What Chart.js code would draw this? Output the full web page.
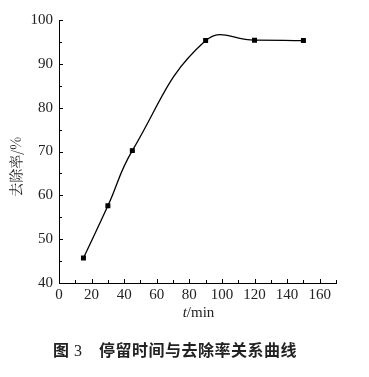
<!DOCTYPE html>
<html>
<head>
<meta charset="utf-8">
<script src="https://cdn.jsdelivr.net/npm/chart.js@4"></script>
<style>
  html, body { margin: 0; padding: 0; background: #fff; }
  #wrap { position: relative; width: 369px; height: 377px; }
  canvas { position: absolute; left: 0; top: 0; }
  #caption {
    position: absolute; left: 53px; top: 339px;
    font-family: "Noto Sans CJK SC", sans-serif; font-weight: bold;
    font-size: 16px; line-height: 20px; color: #222; white-space: nowrap;
  }
  #caption .num { font-family: "Liberation Serif", serif; font-weight: normal; margin-left: 5px; }
  #caption .txt { letter-spacing: 0.5px; margin-left: 17px; }
</style>
</head>
<body>
<div id="wrap">
  <canvas id="chart" width="369" height="377"></canvas>
  <div id="caption">图<span class="num">3</span><span class="txt">停留时间与去除率关系曲线</span></div>
</div>
<script>
// 停留时间 t/min
const times = [15, 30, 45, 90, 120, 150]
// 去除率 %
const removal = [45.7, 57.6, 70.2, 95.3, 95.4, 95.3]

const xTicks = [0, 20, 40, 60, 80, 100, 120, 140, 160]
const yTicks = [40, 50, 60, 70, 80, 90, 100]

const serif = 'Liberation Serif'

// ticks pointing into the plot, major + minor, plus axis titles
const innerTicks = {
  id: 'innerTicks',
  afterDraw(chart) {
    const ctx = chart.ctx
    const x = chart.scales.x
    const y = chart.scales.y
    const area = chart.chartArea
    ctx.save()
    ctx.strokeStyle = '#000'
    ctx.lineWidth = 1
    ctx.beginPath()
    for (let v = 0; v <= 170; v += 10) {
      const px = Math.round(x.getPixelForValue(v)) + 0.5
      const len = v % 20 === 0 ? 4 : 3
      ctx.moveTo(px, area.bottom)
      ctx.lineTo(px, area.bottom - len)
    }
    for (let v = 40; v <= 100; v += 5) {
      const py = Math.round(y.getPixelForValue(v)) + 0.5
      const len = v % 10 === 0 ? 4 : 3
      ctx.moveTo(area.left, py)
      ctx.lineTo(area.left + len, py)
    }
    ctx.stroke()

    // x axis title with italic t
    ctx.fillStyle = '#222'
    ctx.textBaseline = 'middle'
    ctx.font = 'italic 15px "' + serif + '"'
    const tW = ctx.measureText('t').width
    ctx.font = '15px "' + serif + '"'
    const rW = ctx.measureText('/min').width
    const cx = (area.left + area.right) / 2 + 1
    const start = cx - (tW + rW) / 2
    const ty = area.bottom + 30
    ctx.font = 'italic 15px "' + serif + '"'
    ctx.fillText('t', start, ty)
    ctx.font = '15px "' + serif + '"'
    ctx.fillText('/min', start + tW, ty)

    // y axis title, rotated
    ctx.translate(16, y.getPixelForValue(66.5))
    ctx.rotate(-Math.PI / 2)
    ctx.textAlign = 'center'
    ctx.font = '14px "Noto Serif CJK SC", "Noto Sans CJK SC"'
    ctx.fillText('去除率/%', 0, 0)
    ctx.restore()
  }
}

new Chart(document.getElementById('chart'), {
  type: 'line',
  data: {
    datasets: [{
      data: times.map((t, i) => ({ x: t, y: removal[i] })),
      borderColor: '#000',
      backgroundColor: '#000',
      borderWidth: 1.3,
      tension: 0.45,
      pointStyle: 'rect',
      pointRadius: 2.6,
      fill: false
    }]
  },
  plugins: [innerTicks],
  options: {
    responsive: false,
    animation: false,
    layout: { padding: { top: 20, right: 33, left: 0, bottom: 0 } },
    plugins: { legend: { display: false }, tooltip: { enabled: false } },
    scales: {
      x: {
        type: 'linear',
        min: 0,
        max: 170,
        afterBuildTicks: s => { s.ticks = xTicks.map(v => ({ value: v })) },
        afterFit: s => { s.height = 94 },
        grid: { display: true, drawOnChartArea: false, drawTicks: false },
        border: { color: '#000', width: 1 },
        ticks: { color: '#222', padding: 3, font: { family: serif, size: 15 } }
      },
      y: {
        min: 40,
        max: 100,
        afterBuildTicks: s => { s.ticks = yTicks.map(v => ({ value: v })) },
        afterFit: s => { s.width = 59 },
        grid: { display: true, drawOnChartArea: false, drawTicks: false },
        border: { color: '#000', width: 1 },
        ticks: { color: '#222', padding: 6, font: { family: serif, size: 15 } }
      }
    }
  }
})
</script>
</body>
</html>
